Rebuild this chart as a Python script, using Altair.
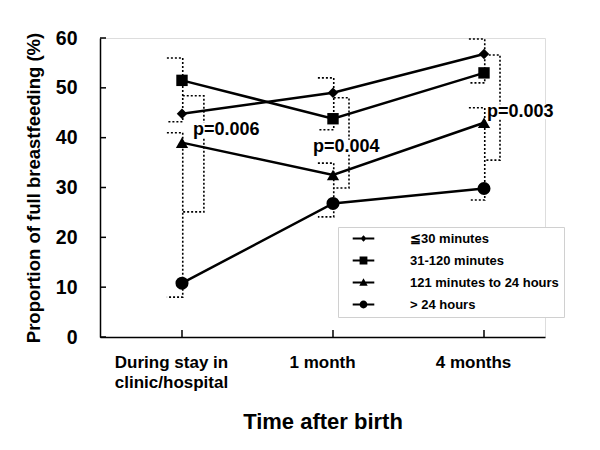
import json
import altair as alt
import pandas as pd

FONT = "Liberation Sans, Arial, sans-serif"

# ---- data ----
times = [0, 1, 2]
x_labels = [["During stay in", "clinic/hospital"], ["1 month"], ["4 months"]]
groups = ["≦30 minutes", "31-120 minutes", "121 minutes to 24 hours", "> 24 hours"]
le30 = [44.8, 49.0, 56.8]
m31_120 = [51.5, 43.8, 53.0]
m121_24h = [39.0, 32.5, 43.0]
gt24h = [10.8, 26.8, 29.8]
y_ticks = [0, 10, 20, 30, 40, 50, 60]

# significance brackets (dotted)
br_time = [0, 0, 0, 1, 1, 1, 2, 2, 2]
br_side = ["in", "out", "in", "in", "out", "in", "in", "out", "in"]
br_top = [56.0, 48.4, 41.0, 52.0, 48.0, 34.9, 59.8, 56.6, 46.0]
br_bottom = [43.2, 25.1, 8.0, 41.6, 29.9, 24.1, 51.0, 35.5, 27.5]
br_reach = [0.10, 0.145, 0.10, 0.10, 0.106, 0.10, 0.10, 0.106, 0.10]

p_text = ["p=0.006", "p=0.004", "p=0.003"]
p_x = [0.073, 0.868, 2.02]
p_y = [41.5, 38.1, 45.2]

# ---- tables ----
series = [le30, m31_120, m121_24h, gt24h]
rows = []
for g, vals in zip(groups, series):
    for t, v in zip(times, vals):
        rows.append({"t": t, "v": v, "group": g})
df = pd.DataFrame(rows)

brows = []
for i, (t, side, top, bot, reach) in enumerate(zip(br_time, br_side, br_top, br_bottom, br_reach)):
    if side == "in":
        x_open, x_close = t - reach, t + 0.005
    else:
        x_open, x_close = t + 0.005, t + reach
    pts = [(x_open, top), (x_close, top), (x_close, bot), (x_open, bot)]
    for k, (xx, yy) in enumerate(pts):
        brows.append({"id": i, "k": k, "t": xx, "v": yy})
bdf = pd.DataFrame(brows)

pdf = pd.DataFrame({"t": p_x, "v": p_y, "label": p_text})

label_expr = " : ".join(
    f"datum.value == {t} ? {json.dumps(lab)}" for t, lab in zip(times[:-1], x_labels[:-1])
) + f" : {json.dumps(x_labels[-1])}"

x_scale = alt.Scale(domain=[-0.543, 2.404], nice=False, zero=False)
y_scale = alt.Scale(domain=[0, 60], nice=False, zero=False)

x_enc = alt.X(
    "t:Q",
    scale=x_scale,
    axis=alt.Axis(
        values=times, tickSize=0, labelExpr=label_expr, labelFont=FONT,
        labelFontSize=17, labelFontWeight="bold", labelColor="black",
        labelPadding=17, labelLineHeight=20, labelOffset=-11, labelFlush=False,
        labelOverlap=False, title="Time after birth", titleFont=FONT,
        titleFontSize=22, titleFontWeight="bold", titleColor="black",
        titlePadding=21, domainColor="black", domainWidth=1.5, grid=False,
    ),
)
y_enc = alt.Y(
    "v:Q",
    scale=y_scale,
    axis=alt.Axis(
        values=y_ticks, tickSize=0, labelFont=FONT, labelFontSize=19.5,
        labelFontWeight="bold", labelColor="black", labelPadding=23,
        title="Proportion of full breastfeeding (%)", titleFont=FONT,
        titleFontSize=18.5, titleFontWeight="bold", titleColor="black",
        titlePadding=12, domainColor="black", domainWidth=1.5, grid=False,
    ),
)

base = alt.Chart(df)

lines = base.mark_line(color="black", strokeWidth=2.5).encode(
    x=x_enc, y=y_enc, detail="group:N"
)

plain_shapes = ["diamond", "square", "triangle-up", "circle"]
points = base.mark_point(filled=True, color="black", opacity=1).encode(
    x=x_enc, y=y_enc,
    shape=alt.Shape("group:N", scale=alt.Scale(domain=groups, range=plain_shapes), legend=None),
    size=alt.Size("group:N", scale=alt.Scale(domain=groups, range=[110, 170, 190, 180]), legend=None),
)

# legend symbols: a short line with the marker on it (filled outlines, all clockwise)
seg = "M-1.8,-0.17H1.8V0.17H-1.8Z"
legend_paths = [
    seg + "M0,-0.55L0.5,0L0,0.55L-0.5,0Z",
    seg + "M-0.65,-0.65H0.65V0.65H-0.65Z",
    seg + "M0,-0.7L0.7,0.55H-0.7Z",
    seg + "M-0.65,0A0.65,0.65 0 1,1 0.65,0A0.65,0.65 0 1,1 -0.65,0Z",
]
legend_layer = base.transform_filter("false").mark_point(filled=True, color="black").encode(
    x=x_enc, y=y_enc,
    shape=alt.Shape(
        "group:N",
        scale=alt.Scale(domain=groups, range=legend_paths),
        legend=alt.Legend(
            title=None, orient="none", legendX=238, legendY=189,
            fillColor="white", strokeColor="#d0d0d0", padding=5,
            symbolSize=144, symbolStrokeWidth=0, symbolFillColor="black",
            symbolStrokeColor="black", symbolOpacity=1, symbolOffset=14,
            labelOffset=40, labelFont=FONT, labelFontSize=13,
            labelFontWeight="bold", labelColor="black", rowPadding=8,
            labelLimit=400,
            labelExpr="datum.label + '\u00a0\u00a0\u00a0\u00a0\u00a0\u00a0\u00a0\u00a0'",
        ),
    ),
)

brackets = alt.Chart(bdf).mark_line(
    color="black", strokeWidth=1.6, strokeDash=[2, 2]
).encode(x=x_enc, y=y_enc, detail="id:N", order="k:Q")

text_bg = alt.Chart(pdf).transform_calculate(
    t2="datum.t + 0.44", v1="datum.v - 1.5", v2="datum.v + 1.5"
).mark_rect(color="white").encode(
    x=x_enc, x2="t2:Q", y=alt.Y("v1:Q", scale=y_scale), y2="v2:Q"
)

texts = alt.Chart(pdf).mark_text(
    align="left", baseline="middle", font=FONT, fontSize=18,
    fontWeight="bold", color="black"
).encode(x=x_enc, y=y_enc, text="label:N")

ytick_rules = alt.Chart(pd.DataFrame({"v": y_ticks})).mark_rule(
    color="black", strokeWidth=1.5
).encode(y=y_enc, x=alt.value(0), x2=alt.value(6))

xtick_rules = alt.Chart(pd.DataFrame({"t": times})).mark_rule(
    color="black", strokeWidth=1.5
).encode(x=x_enc, y=alt.value(299), y2=alt.value(292))

chart = alt.layer(
    lines, brackets, text_bg, texts, points, legend_layer, ytick_rules, xtick_rules
).resolve_scale(shape="independent", size="independent").properties(
    width=445, height=299,
    autosize=alt.AutoSizeParams(type="none"),
    padding={"left": 92, "top": 30, "right": 47, "bottom": 105},
).configure_view(stroke="#d9d9d9", strokeWidth=1).configure(background="white")

chart.save("out.html", embed_options={"renderer": "svg", "actions": False})
